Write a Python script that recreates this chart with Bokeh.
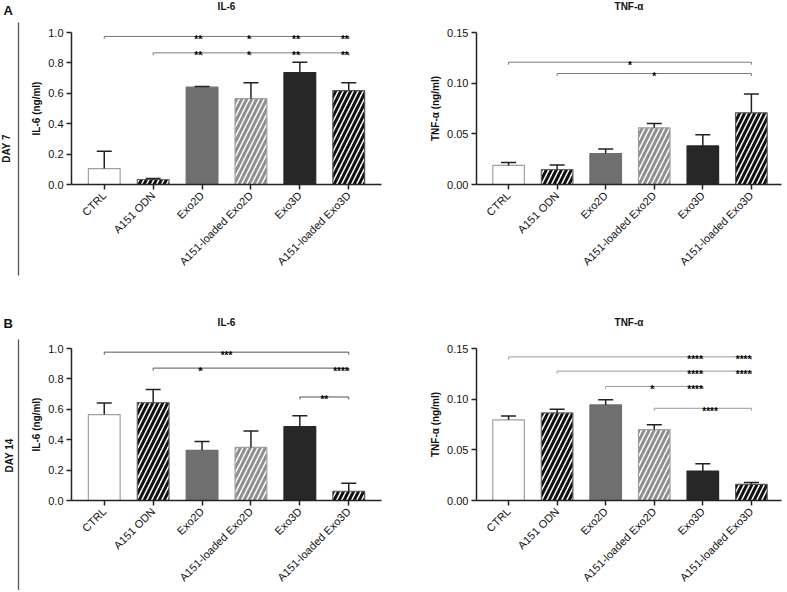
import numpy as np
from bokeh.plotting import figure
from bokeh.models import Range1d, FixedTicker, ColumnDataSource, NumeralTickFormatter
from bokeh.layouts import row, column
from bokeh.embed import file_html
from bokeh.resources import INLINE
from bokeh.core.properties import value

# ---------------- data ----------------
categories = ["CTRL", "A151 ODN", "Exo2D", "A151-loaded Exo2D", "Exo3D", "A151-loaded Exo3D"]

il6_day7 = [0.105, 0.033, 0.640, 0.565, 0.737, 0.618]
il6_day7_err = [0.113, 0.007, 0.005, 0.105, 0.068, 0.052]
tnf_day7 = [0.0188, 0.0148, 0.0306, 0.0559, 0.0381, 0.0707]
tnf_day7_err = [0.0029, 0.0045, 0.0045, 0.0043, 0.0109, 0.0187]

il6_day14 = [0.565, 0.644, 0.330, 0.349, 0.487, 0.061]
il6_day14_err = [0.077, 0.087, 0.058, 0.109, 0.070, 0.052]
tnf_day14 = [0.0796, 0.0864, 0.0943, 0.0700, 0.0291, 0.0160]
tnf_day14_err = [0.0039, 0.0036, 0.0052, 0.0047, 0.0072, 0.0017]

il6_ticks = [0.0, 0.2, 0.4, 0.6, 0.8, 1.0]
tnf_ticks = [0.0, 0.05, 0.10, 0.15]

# significance brackets: (from index, to index, level, [(index, stars, align)])
sig_il6_day7 = [
    (0, 5, 0.974, [(2, "**", "right"), (3, "*", "right"), (4, "**", "right"), (5, "**", "right")]),
    (1, 5, 0.866, [(2, "**", "right"), (3, "*", "right"), (4, "**", "right"), (5, "**", "right")]),
]
sig_tnf_day7 = [
    (0, 5, 0.1207, [(2.5, "*", "center")]),
    (1, 5, 0.1095, [(3.0, "*", "center")]),
]
sig_il6_day14 = [
    (0, 5, 0.976, [(2.5, "***", "center")]),
    (1, 5, 0.871, [(2, "*", "right"), (5, "****", "right")]),
    (4, 5, 0.681, [(4.5, "**", "center")]),
]
sig_tnf_day14 = [
    (0, 5, 0.1417, [(4, "****", "right"), (5, "****", "right")]),
    (1, 5, 0.1277, [(4, "****", "right"), (5, "****", "right")]),
    (2, 4, 0.1126, [(3, "*", "right"), (4, "****", "right")]),
    (3, 5, 0.0910, [(4.15, "****", "center")]),
]

# ---------------- styles ----------------
FONT = "Liberation Sans"
bar_fill = ["white", "white", "#6f6f6f", "white", "#272727", "white"]
bar_line = ["#a0a0a0", "#666666", "#6f6f6f", "#a0a0a0", "#272727", "#555555"]
bar_hatch = [" ", "/", " ", "/", " ", "/"]
bar_hatch_color = ["black", "#111111", "black", "#8f8f8f", "black", "#111111"]


def make_header(title, width, height, bl, br, xr, ty):
    h = figure(width=width, height=height, x_range=Range1d(*xr), y_range=Range1d(height, 0),
               toolbar_location=None, output_backend="svg", x_axis_type=None, y_axis_type=None,
               min_border_left=bl, min_border_right=br, min_border_top=0, min_border_bottom=0)
    h.outline_line_color = None
    h.grid.visible = False
    h.text(x=[(xr[0] + xr[1]) / 2], y=[ty], text=[title], text_align="center", text_baseline="middle",
           text_font=value(FONT), text_font_style="bold", text_font_size="10px", text_color="#111111")
    return h


def make_panel(ylabel, vals, errs, yticks, fmt, brackets, sig_color,
               width, height, bl, br, bt, bb, xr, frame_h):
    xs = list(range(len(categories)))
    ytop = yticks[-1]
    p = figure(width=width, height=height, x_range=Range1d(*xr), y_range=Range1d(0, ytop),
               toolbar_location=None, output_backend="svg", title=None,
               min_border_left=bl, min_border_right=br, min_border_top=bt, min_border_bottom=bb)
    p.outline_line_color = None
    p.grid.visible = False
    p.background_fill_color = "white"

    src = ColumnDataSource(dict(x=xs, top=vals, err_top=[v + e for v, e in zip(vals, errs)],
                                fill=bar_fill, line=bar_line, hatch=bar_hatch, hcol=bar_hatch_color))
    p.vbar(x="x", top="top", bottom=0, width=0.65, source=src, fill_color="fill",
           line_color="line", line_width=1.2, hatch_pattern="hatch", hatch_color="hcol",
           hatch_weight=3.0, hatch_scale=10)
    p.segment(x0="x", y0="top", x1="x", y1="err_top", source=src, line_color="#222222", line_width=1.5)
    p.scatter(x="x", y="err_top", source=src, marker="dash", size=15, line_color="#222222", line_width=1.5)

    px = ytop / frame_h
    tick = 2.5 * px
    for (a, b, lev, marks) in brackets:
        p.segment(x0=[a], y0=[lev], x1=[b], y1=[lev], line_color=sig_color, line_width=1)
        tx = [a, b] + [m[0] for m in marks if m[2] == "right"]
        p.segment(x0=tx, y0=[lev] * len(tx), x1=tx, y1=[lev - tick] * len(tx),
                  line_color=sig_color, line_width=1)
        for (mx, s, al) in marks:
            p.text(x=[mx], y=[lev], text=[s], text_align=al, text_baseline="alphabetic",
                   y_offset=3, text_font=value(FONT), text_font_style="bold",
                   text_font_size="10px", text_color="black")

    xa = p.xaxis[0]
    xa.ticker = FixedTicker(ticks=xs)
    xa.major_label_overrides = {i: c for i, c in enumerate(categories)}
    xa.major_label_orientation = np.pi / 4
    xa.major_label_text_font = FONT
    xa.major_label_text_font_size = "11px"
    xa.major_label_text_color = "#111111"
    xa.major_tick_out = 5
    xa.major_tick_in = 0
    xa.minor_tick_line_color = None
    xa.axis_line_width = 1.5
    xa.axis_line_color = "#222222"
    xa.major_tick_line_width = 1.5
    xa.major_tick_line_color = "#222222"
    xa.major_label_standoff = 4

    ya = p.yaxis[0]
    ya.ticker = FixedTicker(ticks=yticks)
    ya.formatter = NumeralTickFormatter(format=fmt)
    ya.major_label_text_font = FONT
    ya.major_label_text_font_size = "11px"
    ya.major_label_text_color = "#111111"
    ya.major_tick_out = 5
    ya.major_tick_in = 0
    ya.minor_tick_line_color = None
    ya.axis_line_width = 1.5
    ya.axis_line_color = "#222222"
    ya.major_tick_line_width = 1.5
    ya.major_tick_line_color = "#222222"
    ya.major_label_standoff = 3
    ya.axis_label = ylabel
    ya.axis_label_text_font = FONT
    ya.axis_label_text_font_size = "10px"
    ya.axis_label_text_font_style = "bold"
    ya.axis_label_text_color = "#111111"
    ya.axis_label_standoff = 3
    return p


def make_strip(letter, day, height, line_y, day_xy, letter_xy):
    s = figure(width=20, height=height, x_range=Range1d(0, 20), y_range=Range1d(height, 0),
               toolbar_location=None, output_backend="svg", x_axis_type=None, y_axis_type=None,
               min_border=0)
    s.outline_line_color = None
    s.grid.visible = False
    s.text(x=[letter_xy[0]], y=[letter_xy[1]], text=[letter], text_align="left", text_baseline="top",
           text_font=value(FONT), text_font_style="bold", text_font_size="13px", text_color="#111111")
    s.text(x=[day_xy[0]], y=[day_xy[1]], text=[day], angle=np.pi / 2, text_align="center",
           text_baseline="middle", text_font=value(FONT), text_font_style="bold",
           text_font_size="10px", text_color="#111111")
    s.segment(x0=[18], y0=[line_y[0]], x1=[18], y1=[line_y[1]], line_color="#555555", line_width=1.3)
    return s


XL = (-0.67, 5.67)
XR = (-0.66, 5.62)

# top row: header 25 px, panel 271 px (frame from page y=32 to 184)
h1 = make_header("IL-6", 380, 25, 51, 19, XL, 6)
h2 = make_header("TNF-α", 385, 25, 76, 4, XR, 6)
p1 = make_panel("IL-6 (ng/ml)", il6_day7, il6_day7_err, il6_ticks, "0.0", sig_il6_day7, "#7a7a7a",
                380, 271, 51, 19, 7, 112, XL, 152)
p2 = make_panel("TNF-α (ng/ml)", tnf_day7, tnf_day7_err, tnf_ticks, "0.00", sig_tnf_day7, "#7a7a7a",
                385, 271, 76, 4, 7, 112, XR, 152)

# bottom row: header 45 px, panel 249 px (frame from page y=348 to 501)
h3 = make_header("IL-6", 380, 45, 51, 19, XL, 26)
h4 = make_header("TNF-α", 385, 45, 76, 4, XR, 26)
p3 = make_panel("IL-6 (ng/ml)", il6_day14, il6_day14_err, il6_ticks, "0.0", sig_il6_day14, "#555555",
                380, 249, 51, 19, 7, 89, XL, 153)
p4 = make_panel("TNF-α (ng/ml)", tnf_day14, tnf_day14_err, tnf_ticks, "0.00", sig_tnf_day14, "#9a9a9a",
                385, 249, 76, 4, 7, 89, XR, 153)

s1 = make_strip("A", "DAY 7", 296, (22, 275), (6, 148), (3, 2))
s2 = make_strip("B", "DAY 14", 294, (43, 294), (9, 159), (3, 19))

layout = row(column(s1, s2),
             column(row(column(h1, p1), column(h2, p2)),
                    row(column(h3, p3), column(h4, p4))))

open("out.html", "w").write(file_html(layout, INLINE))
